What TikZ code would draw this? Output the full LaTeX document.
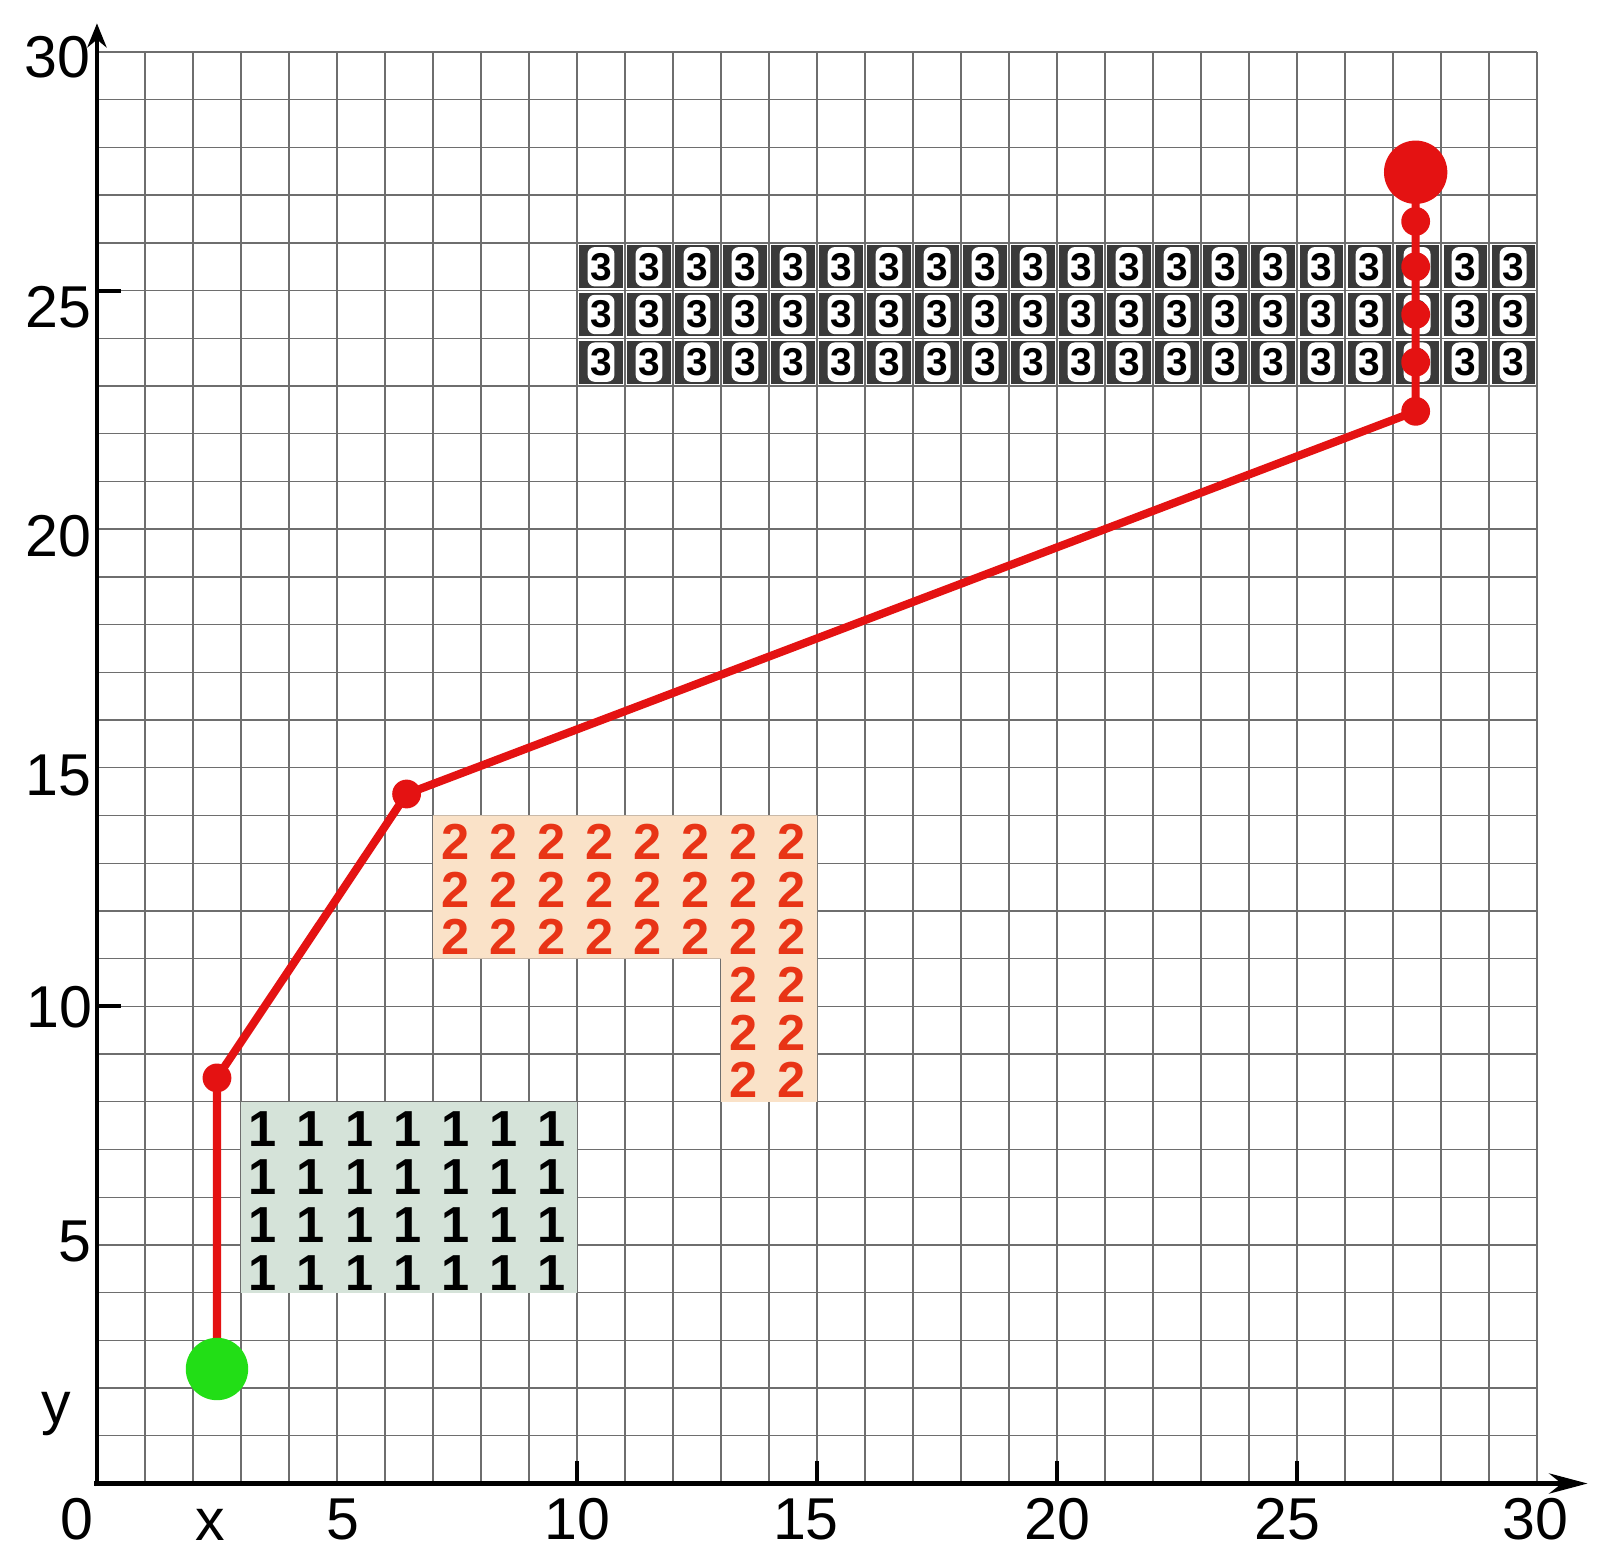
\documentclass[tikz,border=0pt]{standalone}
\usepackage{fontspec}
\setmainfont{Liberation Sans}
\usetikzlibrary{arrows.meta}
\definecolor{gridc}{RGB}{110,110,110}
\definecolor{greenfill}{RGB}{213,227,217}
\definecolor{peach}{RGB}{250,226,200}
\definecolor{twored}{RGB}{232,52,22}
\definecolor{darkcell}{RGB}{58,58,58}
\definecolor{pathred}{RGB}{228,18,18}
\definecolor{dotgreen}{RGB}{34,222,22}
\begin{document}
\begin{tikzpicture}[x=1cm,y=0.994cm,
  gridline/.style={draw=gridc,line width=0.8pt},
  axisline/.style={draw=black,line width=2.9pt},
  tickmark/.style={draw=black,line width=2.4pt},
  axlabel/.style={inner sep=0pt,font=\fontsize{35}{40}\selectfont},
  onecell/.style={inner sep=0pt,font=\fontsize{30}{34}\selectfont\bfseries,text=black},
  twocell/.style={inner sep=0pt,font=\fontsize{30}{34}\selectfont\bfseries,text=twored},
  threebox/.style={fill=white,rounded corners=0.15cm,minimum width=0.56cm,minimum height=0.82cm,inner sep=0pt,font=\fontsize{23}{26}\selectfont\bfseries,text=black},
  redpath/.style={draw=pathred,line width=4.8pt,line join=round},
  reddot/.style={circle,fill=pathred,minimum size=0.6cm,inner sep=0pt},
  bigreddot/.style={circle,fill=pathred,minimum size=1.32cm,inner sep=0pt},
  greendot/.style={circle,fill=dotgreen,minimum size=1.3cm,inner sep=0pt}]
\useasboundingbox (-2.02,-1.656) rectangle (31.31,31.09);
\fill[white] (-2.02,-1.656) rectangle (31.31,31.09);
% grid
\foreach \k in {0,...,30} {
  \draw[gridline] (\k,0) -- (\k,30);
  \draw[gridline] (0,\k) -- (30,\k);
}
% region 1
\fill[greenfill] (3,4) rectangle (10,8);
\foreach \i in {3,...,9} {
  \foreach \j in {4,...,7} {
    \node[onecell] (one-\i-\j) at (\i+0.46,\j+0.42) {1};
  }
}
% region 2
\fill[peach] (7,14) -- (15,14) -- (15,8) -- (13,8) -- (13,11) -- (7,11) -- cycle;
\foreach \i in {7,...,14} {
  \foreach \j in {11,12,13} {
    \node[twocell] (two-\i-\j) at (\i+0.47,\j+0.45) {2};
  }
}
\foreach \i in {13,14} {
  \foreach \j in {8,9,10} {
    \node[twocell] (two-\i-\j) at (\i+0.47,\j+0.45) {2};
  }
}
% region 3
\foreach \i in {10,...,29} {
  \foreach \j in {23,24,25} {
    \fill[darkcell] (\i+0.05,\j+0.05) rectangle (\i+0.95,\j+0.95);
    \node[threebox] (three-\i-\j) at (\i+0.5,\j+0.5) {3};
  }
}
% axes
\draw[axisline,-{Stealth[length=0.8cm,width=0.42cm]}] (-0.06,0) -- (31.05,0);
\draw[axisline,-{Stealth[length=0.5cm,width=0.4cm]}] (0,-0.06) -- (0,30.6);
\foreach \t in {10,15,20,25} { \draw[tickmark] (\t,0) -- (\t,0.48); }
\foreach \t in {10,25} { \draw[tickmark] (0,\t) -- (0.5,\t); }
% labels
\node[axlabel] (ly30) at (-0.83,29.9) {30};
\node[axlabel] (ly25) at (-0.81,24.65) {25};
\node[axlabel] (ly20) at (-0.80,19.85) {20};
\node[axlabel] (ly15) at (-0.81,14.84) {15};
\node[axlabel] (ly10) at (-0.79,9.98) {10};
\node[axlabel] (ly5) at (-0.46,5.07) {5};
\node[axlabel,anchor=base] (lyy) at (-0.85,1.26) {y};
\node[axlabel] (lx0) at (-0.42,-0.745) {0};
\node[axlabel,anchor=base] (lxx) at (2.35,-1.19) {x};
\node[axlabel] (lx5) at (5.13,-0.745) {5};
\node[axlabel] (lx10) at (10.0,-0.745) {10};
\node[axlabel] (lx15) at (14.77,-0.745) {15};
\node[axlabel] (lx20) at (20.0,-0.745) {20};
\node[axlabel] (lx25) at (24.8,-0.745) {25};
\node[axlabel] (lx30) at (29.96,-0.745) {30};
% path
\coordinate (s) at (2.5,2.4);
\coordinate (p1) at (2.5,8.5);
\coordinate (p2) at (6.45,14.45);
\coordinate (p3) at (27.47,22.47);
\coordinate (p4) at (27.47,23.5);
\coordinate (p5) at (27.47,24.5);
\coordinate (p6) at (27.47,25.5);
\coordinate (p7) at (27.47,26.45);
\coordinate (e) at (27.47,27.48);
\draw[redpath] (s) -- (p1) -- (p2) -- (p3) -- (e);
\node[greendot] (sdot) at (s) {};
\foreach \p in {p1,p2,p3,p4,p5,p6,p7} { \node[reddot] (\p dot) at (\p) {}; }
\node[bigreddot] (edot) at (e) {};
\end{tikzpicture}
\end{document}
